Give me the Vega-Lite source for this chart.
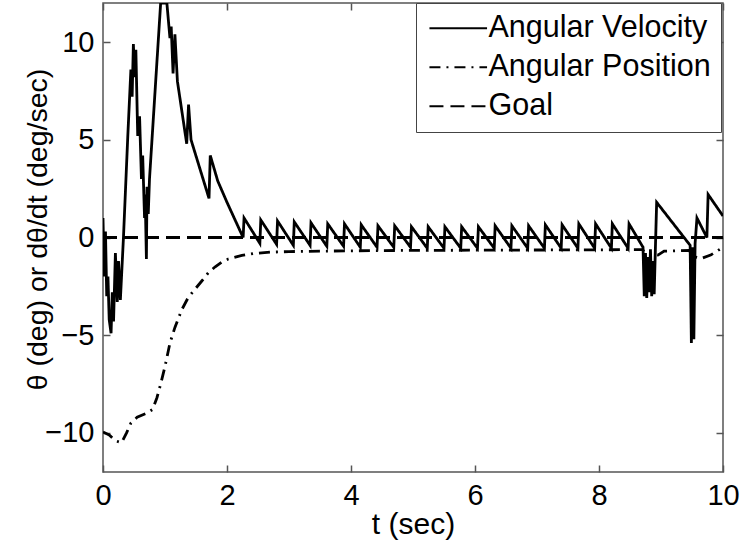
{
  "$schema": "https://vega.github.io/schema/vega-lite/v6.json",
  "width": 620,
  "height": 469,
  "autosize": "none",
  "padding": {"left": 103, "top": 3, "right": 18, "bottom": 82},
  "background": "white",
  "config": {
    "font": "Liberation Sans",
    "view": {"stroke": "#555", "strokeWidth": 1.5},
    "axis": {
      "grid": false,
      "domain": false,
      "tickColor": "#555",
      "tickSize": -7,
      "tickWidth": 1.5,
      "labelFont": "Liberation Sans",
      "labelFontSize": 29,
      "labelColor": "black",
      "titleFont": "Liberation Sans",
      "titleFontSize": 30,
      "titleFontWeight": "normal",
      "titleColor": "black"
    }
  },
  "datasets": {
    "series": [
      {"t": 0.00, "v": 1.0, "s": "Angular Velocity"},
      {"t": 0.02, "v": -2.0, "s": "Angular Velocity"},
      {"t": 0.04, "v": 0.3, "s": "Angular Velocity"},
      {"t": 0.06, "v": -3.0, "s": "Angular Velocity"},
      {"t": 0.08, "v": -2.0, "s": "Angular Velocity"},
      {"t": 0.10, "v": -4.2, "s": "Angular Velocity"},
      {"t": 0.13, "v": -4.9, "s": "Angular Velocity"},
      {"t": 0.15, "v": -2.8, "s": "Angular Velocity"},
      {"t": 0.17, "v": -4.3, "s": "Angular Velocity"},
      {"t": 0.20, "v": -0.8, "s": "Angular Velocity"},
      {"t": 0.23, "v": -3.3, "s": "Angular Velocity"},
      {"t": 0.25, "v": -1.2, "s": "Angular Velocity"},
      {"t": 0.28, "v": -3.2, "s": "Angular Velocity"},
      {"t": 0.33, "v": 0.0, "s": "Angular Velocity"},
      {"t": 0.40, "v": 5.2, "s": "Angular Velocity"},
      {"t": 0.45, "v": 8.6, "s": "Angular Velocity"},
      {"t": 0.47, "v": 7.2, "s": "Angular Velocity"},
      {"t": 0.49, "v": 9.9, "s": "Angular Velocity"},
      {"t": 0.51, "v": 8.2, "s": "Angular Velocity"},
      {"t": 0.53, "v": 9.6, "s": "Angular Velocity"},
      {"t": 0.56, "v": 5.2, "s": "Angular Velocity"},
      {"t": 0.59, "v": 6.2, "s": "Angular Velocity"},
      {"t": 0.62, "v": 3.0, "s": "Angular Velocity"},
      {"t": 0.64, "v": 4.2, "s": "Angular Velocity"},
      {"t": 0.67, "v": 1.0, "s": "Angular Velocity"},
      {"t": 0.68, "v": 2.2, "s": "Angular Velocity"},
      {"t": 0.70, "v": -1.1, "s": "Angular Velocity"},
      {"t": 0.71, "v": 2.6, "s": "Angular Velocity"},
      {"t": 0.73, "v": 1.2, "s": "Angular Velocity"},
      {"t": 0.75, "v": 3.0, "s": "Angular Velocity"},
      {"t": 0.93, "v": 12.0, "s": "Angular Velocity"},
      {"t": 1.03, "v": 12.0, "s": "Angular Velocity"},
      {"t": 1.08, "v": 10.2, "s": "Angular Velocity"},
      {"t": 1.10, "v": 10.8, "s": "Angular Velocity"},
      {"t": 1.13, "v": 8.4, "s": "Angular Velocity"},
      {"t": 1.16, "v": 10.4, "s": "Angular Velocity"},
      {"t": 1.20, "v": 8.0, "s": "Angular Velocity"},
      {"t": 1.35, "v": 4.8, "s": "Angular Velocity"},
      {"t": 1.38, "v": 6.8, "s": "Angular Velocity"},
      {"t": 1.42, "v": 5.0, "s": "Angular Velocity"},
      {"t": 1.71, "v": 2.0, "s": "Angular Velocity"},
      {"t": 1.73, "v": 4.2, "s": "Angular Velocity"},
      {"t": 1.85, "v": 2.9, "s": "Angular Velocity"},
      {"t": 2.00, "v": 1.8, "s": "Angular Velocity"},
      {"t": 2.13, "v": 0.9, "s": "Angular Velocity"},
      {"t": 2.26, "v": 0.0, "s": "Angular Velocity"},
      {"t": 2.275, "v": 1.0, "s": "Angular Velocity"},
      {"t": 2.53, "v": -0.3, "s": "Angular Velocity"},
      {"t": 2.545, "v": 0.9, "s": "Angular Velocity"},
      {"t": 2.80, "v": -0.35, "s": "Angular Velocity"},
      {"t": 2.815, "v": 0.85, "s": "Angular Velocity"},
      {"t": 3.07, "v": -0.4, "s": "Angular Velocity"},
      {"t": 3.085, "v": 0.8, "s": "Angular Velocity"},
      {"t": 3.34, "v": -0.4, "s": "Angular Velocity"},
      {"t": 3.355, "v": 0.75, "s": "Angular Velocity"},
      {"t": 3.61, "v": -0.45, "s": "Angular Velocity"},
      {"t": 3.625, "v": 0.7, "s": "Angular Velocity"},
      {"t": 3.88, "v": -0.45, "s": "Angular Velocity"},
      {"t": 3.895, "v": 0.7, "s": "Angular Velocity"},
      {"t": 4.15, "v": -0.5, "s": "Angular Velocity"},
      {"t": 4.165, "v": 0.65, "s": "Angular Velocity"},
      {"t": 4.42, "v": -0.5, "s": "Angular Velocity"},
      {"t": 4.435, "v": 0.6, "s": "Angular Velocity"},
      {"t": 4.69, "v": -0.5, "s": "Angular Velocity"},
      {"t": 4.705, "v": 0.6, "s": "Angular Velocity"},
      {"t": 4.96, "v": -0.5, "s": "Angular Velocity"},
      {"t": 4.975, "v": 0.55, "s": "Angular Velocity"},
      {"t": 5.23, "v": -0.55, "s": "Angular Velocity"},
      {"t": 5.245, "v": 0.55, "s": "Angular Velocity"},
      {"t": 5.50, "v": -0.55, "s": "Angular Velocity"},
      {"t": 5.515, "v": 0.55, "s": "Angular Velocity"},
      {"t": 5.77, "v": -0.55, "s": "Angular Velocity"},
      {"t": 5.785, "v": 0.55, "s": "Angular Velocity"},
      {"t": 6.04, "v": -0.55, "s": "Angular Velocity"},
      {"t": 6.055, "v": 0.55, "s": "Angular Velocity"},
      {"t": 6.31, "v": -0.55, "s": "Angular Velocity"},
      {"t": 6.325, "v": 0.6, "s": "Angular Velocity"},
      {"t": 6.58, "v": -0.55, "s": "Angular Velocity"},
      {"t": 6.595, "v": 0.6, "s": "Angular Velocity"},
      {"t": 6.85, "v": -0.55, "s": "Angular Velocity"},
      {"t": 6.865, "v": 0.6, "s": "Angular Velocity"},
      {"t": 7.12, "v": -0.55, "s": "Angular Velocity"},
      {"t": 7.135, "v": 0.65, "s": "Angular Velocity"},
      {"t": 7.39, "v": -0.55, "s": "Angular Velocity"},
      {"t": 7.405, "v": 0.65, "s": "Angular Velocity"},
      {"t": 7.66, "v": -0.55, "s": "Angular Velocity"},
      {"t": 7.675, "v": 0.7, "s": "Angular Velocity"},
      {"t": 7.93, "v": -0.55, "s": "Angular Velocity"},
      {"t": 7.945, "v": 0.7, "s": "Angular Velocity"},
      {"t": 8.20, "v": -0.55, "s": "Angular Velocity"},
      {"t": 8.215, "v": 0.7, "s": "Angular Velocity"},
      {"t": 8.47, "v": -0.55, "s": "Angular Velocity"},
      {"t": 8.485, "v": 0.7, "s": "Angular Velocity"},
      {"t": 8.71, "v": -0.5, "s": "Angular Velocity"},
      {"t": 8.73, "v": -3.0, "s": "Angular Velocity"},
      {"t": 8.75, "v": -0.8, "s": "Angular Velocity"},
      {"t": 8.77, "v": -3.1, "s": "Angular Velocity"},
      {"t": 8.79, "v": -1.0, "s": "Angular Velocity"},
      {"t": 8.81, "v": -2.8, "s": "Angular Velocity"},
      {"t": 8.83, "v": -0.6, "s": "Angular Velocity"},
      {"t": 8.85, "v": -3.0, "s": "Angular Velocity"},
      {"t": 8.87, "v": -1.2, "s": "Angular Velocity"},
      {"t": 8.89, "v": -2.9, "s": "Angular Velocity"},
      {"t": 8.91, "v": -0.5, "s": "Angular Velocity"},
      {"t": 8.93, "v": 1.8, "s": "Angular Velocity"},
      {"t": 9.47, "v": -0.4, "s": "Angular Velocity"},
      {"t": 9.49, "v": -5.4, "s": "Angular Velocity"},
      {"t": 9.51, "v": -0.5, "s": "Angular Velocity"},
      {"t": 9.53, "v": -5.2, "s": "Angular Velocity"},
      {"t": 9.55, "v": -0.3, "s": "Angular Velocity"},
      {"t": 9.58, "v": 1.0, "s": "Angular Velocity"},
      {"t": 9.74, "v": 0.0, "s": "Angular Velocity"},
      {"t": 9.76, "v": 2.2, "s": "Angular Velocity"},
      {"t": 10.0, "v": 1.1, "s": "Angular Velocity"},

      {"t": 0.00, "v": -9.95, "s": "Angular Position"},
      {"t": 0.10, "v": -10.1, "s": "Angular Position"},
      {"t": 0.20, "v": -10.4, "s": "Angular Position"},
      {"t": 0.30, "v": -10.5, "s": "Angular Position"},
      {"t": 0.38, "v": -10.0, "s": "Angular Position"},
      {"t": 0.45, "v": -9.5, "s": "Angular Position"},
      {"t": 0.55, "v": -9.2, "s": "Angular Position"},
      {"t": 0.70, "v": -9.0, "s": "Angular Position"},
      {"t": 0.80, "v": -8.8, "s": "Angular Position"},
      {"t": 0.87, "v": -8.2, "s": "Angular Position"},
      {"t": 0.93, "v": -7.5, "s": "Angular Position"},
      {"t": 1.00, "v": -6.6, "s": "Angular Position"},
      {"t": 1.08, "v": -5.4, "s": "Angular Position"},
      {"t": 1.16, "v": -4.6, "s": "Angular Position"},
      {"t": 1.27, "v": -3.7, "s": "Angular Position"},
      {"t": 1.37, "v": -3.1, "s": "Angular Position"},
      {"t": 1.47, "v": -2.7, "s": "Angular Position"},
      {"t": 1.60, "v": -2.2, "s": "Angular Position"},
      {"t": 1.70, "v": -1.8, "s": "Angular Position"},
      {"t": 1.81, "v": -1.5, "s": "Angular Position"},
      {"t": 1.92, "v": -1.25, "s": "Angular Position"},
      {"t": 2.02, "v": -1.1, "s": "Angular Position"},
      {"t": 2.24, "v": -0.92, "s": "Angular Position"},
      {"t": 2.42, "v": -0.82, "s": "Angular Position"},
      {"t": 2.70, "v": -0.75, "s": "Angular Position"},
      {"t": 3.00, "v": -0.72, "s": "Angular Position"},
      {"t": 3.50, "v": -0.7, "s": "Angular Position"},
      {"t": 4.00, "v": -0.68, "s": "Angular Position"},
      {"t": 5.00, "v": -0.66, "s": "Angular Position"},
      {"t": 6.00, "v": -0.65, "s": "Angular Position"},
      {"t": 7.00, "v": -0.64, "s": "Angular Position"},
      {"t": 8.00, "v": -0.63, "s": "Angular Position"},
      {"t": 8.70, "v": -0.62, "s": "Angular Position"},
      {"t": 8.75, "v": -0.8, "s": "Angular Position"},
      {"t": 8.95, "v": -0.9, "s": "Angular Position"},
      {"t": 9.05, "v": -0.7, "s": "Angular Position"},
      {"t": 9.45, "v": -0.66, "s": "Angular Position"},
      {"t": 9.55, "v": -1.0, "s": "Angular Position"},
      {"t": 9.65, "v": -1.07, "s": "Angular Position"},
      {"t": 9.80, "v": -0.9, "s": "Angular Position"},
      {"t": 10.0, "v": -0.5, "s": "Angular Position"},

      {"t": 0, "v": 0, "s": "Goal"},
      {"t": 10, "v": 0, "s": "Goal"}
    ]
  },
  "data": {"name": "series"},
  "layer": [
    {
      "mark": {"type": "line", "color": "black", "strokeWidth": 2.8, "clip": true},
      "encoding": {
        "x": {
          "field": "t", "type": "quantitative",
          "scale": {"domain": [0, 10], "nice": false, "zero": false},
          "axis": {"title": "t (sec)", "values": [0, 2, 4, 6, 8, 10], "labelPadding": 16, "titlePadding": -1, "labelFlush": false}
        },
        "y": {
          "field": "v", "type": "quantitative",
          "scale": {"domain": [-12, 12], "nice": false, "zero": false},
          "axis": {"title": "θ (deg) or dθ/dt (deg/sec)", "values": [-10, -5, 0, 5, 10], "labelPadding": 16, "titlePadding": -8, "titleFontSize": 28.5, "titleY": 226}
        },
        "strokeDash": {
          "field": "s", "type": "nominal",
          "scale": {
            "domain": ["Angular Velocity", "Angular Position", "Goal"],
            "range": [[1, 0], [11, 6, 2, 6], [14, 7]]
          },
          "legend": {
            "title": null,
            "orient": "none",
            "legendX": 313,
            "legendY": 0,
            "strokeColor": "#444",
            "fillColor": "white",
            "padding": 10,
            "symbolType": "M-2.4,0H2.4",
            "symbolSize": 576,
            "symbolOffset": 17,
            "symbolStrokeWidth": 2,
            "symbolStrokeColor": "black",
            "labelFont": "Liberation Sans",
            "labelFontSize": 30.5,
            "labelColor": "black",
            "labelLimit": 400,
            "labelOffset": 15,
            "rowPadding": 8
          }
        }
      }
    },
    {
      "mark": {"type": "line", "opacity": 0},
      "encoding": {
        "x": {
          "field": "t", "type": "quantitative",
          "axis": {"orient": "top", "title": null, "labels": false, "values": [0, 2, 4, 6, 8, 10]}
        },
        "y": {
          "field": "v", "type": "quantitative",
          "axis": {"orient": "right", "title": null, "labels": false, "values": [-10, -5, 0, 5, 10]}
        },
        "detail": {"field": "s"}
      }
    }
  ],
  "resolve": {"axis": {"x": "independent", "y": "independent"}}
}
